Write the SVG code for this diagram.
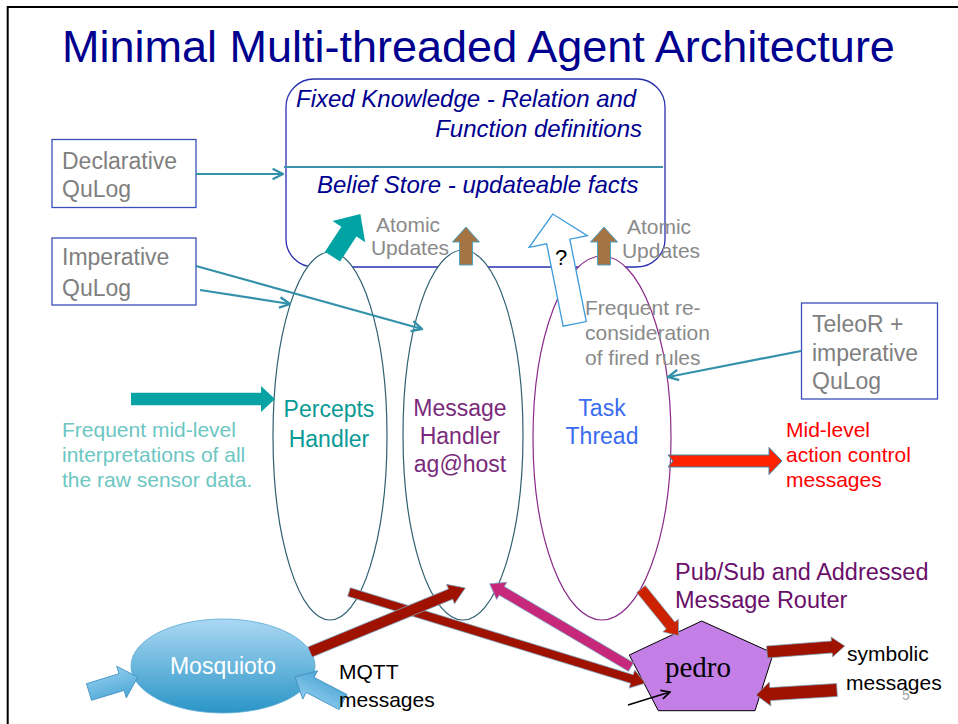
<svg xmlns="http://www.w3.org/2000/svg" width="958" height="724" viewBox="0 0 958 724">
  <style>
    text { font-family: "Liberation Sans", Arial, sans-serif; }
    text.serif { font-family: "Liberation Serif", "Times New Roman", serif; }
    .title { font-size: 45px; fill: #00008f; }
    .kb { font-size: 24px; font-style: italic; fill: #00008f; }
    .box { fill: #ffffff; stroke: #3a4fb8; stroke-width: 1.3; }
    .boxtxt { font-size: 23px; fill: #808080; }
    .gray { font-size: 21px; fill: #8a8a8a; }
    .thread { fill: #ffffff; stroke-width: 1.2; }
    .conn { fill: none; stroke: #3391aa; stroke-width: 2.2; marker-end: url(#open); }
    .darkred { fill: #a01200; stroke: #7aa9c6; stroke-width: 0.7; }
    .blue-in { fill: url(#blueFill); stroke: #3f8fbf; stroke-width: 0.8; }
    .black { font-size: 21px; fill: #000000; }
  </style>
  <defs>
    <marker id="open" viewBox="0 0 10 10" markerUnits="userSpaceOnUse" markerWidth="13" markerHeight="13" refX="9" refY="5" orient="auto">
      <path d="M1,1 L9,5 L1,9" fill="none" stroke="#3391aa" stroke-width="1.8"/>
    </marker>
    <marker id="openBlack" viewBox="0 0 10 10" markerUnits="userSpaceOnUse" markerWidth="11" markerHeight="11" refX="9" refY="5" orient="auto">
      <path d="M1,1 L9,5 L1,9" fill="none" stroke="#000" stroke-width="1.5"/>
    </marker>
    <linearGradient id="mosqFill" x1="0" y1="0" x2="0" y2="1">
      <stop offset="0" stop-color="#acd8f3"/>
      <stop offset="1" stop-color="#2a95c7"/>
    </linearGradient>
    <linearGradient id="blueFill" x1="0" y1="0" x2="0" y2="1">
      <stop offset="0" stop-color="#8fcdee"/>
      <stop offset="1" stop-color="#4ca6d6"/>
    </linearGradient>
  </defs>

  <!-- frame -->
  <path d="M7.7,724 V7 H958" fill="none" stroke="#000" stroke-width="2"/>

  <g id="title">
    <text class="title" x="62" y="62">Minimal Multi-threaded Agent Architecture</text>
  </g>

  <!-- knowledge base -->
  <g id="knowledge-base">
    <rect x="286" y="79" width="379" height="188" rx="28" ry="28" fill="#ffffff" stroke="#2a2fb0" stroke-width="1.3"/>
    <line x1="284" y1="167" x2="663" y2="167" stroke="#3a92ab" stroke-width="2.2"/>
    <text class="kb" x="296" y="107">Fixed Knowledge - Relation and</text>
    <text class="kb" x="642" y="137" text-anchor="end">Function definitions</text>
    <text class="kb" x="317" y="193">Belief Store - updateable facts</text>
  </g>

  <g id="declarative-qulog">
    <rect class="box" x="52" y="139.5" width="144" height="68"/>
    <text class="boxtxt" x="62" y="169">Declarative</text>
    <text class="boxtxt" x="62" y="197">QuLog</text>
  </g>

  <g id="imperative-qulog">
    <rect class="box" x="52" y="238" width="144" height="67"/>
    <text class="boxtxt" x="62" y="265">Imperative</text>
    <text class="boxtxt" x="62" y="296">QuLog</text>
  </g>

  <g id="teleor">
    <rect class="box" x="801.5" y="303" width="136" height="96"/>
    <text class="boxtxt" x="812" y="332">TeleoR +</text>
    <text class="boxtxt" x="812" y="361">imperative</text>
    <text class="boxtxt" x="812" y="389">QuLog</text>
  </g>

  <!-- threads -->
  <g id="percepts-handler">
    <ellipse class="thread" cx="330" cy="436" rx="57" ry="184" stroke="#2f6070"/>
    <text x="329" y="417" text-anchor="middle" font-size="23" fill="#0a9a96">Percepts</text>
    <text x="329" y="447" text-anchor="middle" font-size="23" fill="#0a9a96">Handler</text>
  </g>

  <g id="message-handler">
    <ellipse class="thread" cx="463" cy="435" rx="60" ry="185" stroke="#2f6070"/>
    <text x="460" y="416" text-anchor="middle" font-size="23" fill="#7a2a7a">Message</text>
    <text x="460" y="444" text-anchor="middle" font-size="23" fill="#7a2a7a">Handler</text>
    <text x="460" y="472" text-anchor="middle" font-size="23" fill="#7a2a7a">ag@host</text>
  </g>

  <g id="task-thread">
    <ellipse class="thread" cx="602" cy="438" rx="69" ry="182" stroke="#8a2a8a"/>
    <text x="602" y="416" text-anchor="middle" font-size="23" fill="#3a6cf0">Task</text>
    <text x="602" y="444" text-anchor="middle" font-size="23" fill="#3a6cf0">Thread</text>
  </g>

  <g id="mosquioto">
    <ellipse cx="223" cy="666" rx="92" ry="47" fill="url(#mosqFill)" stroke="#5aa9d3" stroke-width="0.8"/>
    <text x="223" y="674" text-anchor="middle" font-size="23" fill="#ffffff">Mosquioto</text>
  </g>

  <g id="pedro">
    <polygon points="701.7,621 773.3,653.3 755,710.7 658.3,710.7 629.3,655" fill="#c47fe6" stroke="#000" stroke-width="1"/>
    <text class="serif" x="698" y="677" text-anchor="middle" font-size="29" fill="#000">pedro</text>
  </g>

  <!-- connectors -->
  <g id="connectors">
    <path class="conn" d="M196,174 H283"/>
    <path class="conn" d="M196,266 L422,329"/>
    <path class="conn" d="M200,290 L290,304"/>
    <path class="conn" d="M801,351 L668,377"/>
    <path d="M628,705 L670,692" fill="none" stroke="#000" stroke-width="1.4" marker-end="url(#openBlack)"/>

    <!-- percepts into the belief store -->
    <path d="M0,-9 H30 V-19.5 L51,0 L30,19.5 V9 H0 Z" transform="translate(332.5,256.7) rotate(-56.9)" fill="#00a3a3"/>
    <!-- sensor input -->
    <path d="M0,-6.2 H130 V-13 L144,0 L130,13 V6.2 H0 Z" transform="translate(131,399)" fill="#0aa3a3"/>
    <!-- atomic updates -->
    <path d="M0,-6.5 H23 V-13.5 L38,0 L23,13.5 V6.5 H0 Z" transform="translate(466,265) rotate(-90)" fill="#a47443" stroke="#4ba3c8" stroke-width="1"/>
    <path d="M0,-6.5 H23 V-13.5 L38,0 L23,13.5 V6.5 H0 Z" transform="translate(604,265) rotate(-90)" fill="#a47443" stroke="#4ba3c8" stroke-width="1"/>
    <!-- task thread query -->
    <path d="M0,-11.8 H84 V-29.7 L112,0 L84,29.7 V11.8 H0 Z" transform="translate(574.7,323.9) rotate(-101.3)" fill="#ffffff" stroke="#3a9ad9" stroke-width="1.3"/>
    <!-- action control output -->
    <path d="M0,-6 H101 V-13.5 L114,0 L101,13.5 V6 H0 L5,0 Z" transform="translate(668,461)" fill="#ff2200" stroke="#3a8aa8" stroke-width="1"/>

    <!-- message routing -->
    <path class="darkred" d="M0,-4.5 H296 V-9.5 L310,0 L296,9.5 V4.5 H0 Z" transform="translate(349,592) rotate(17.1)"/>
    <path class="darkred" d="M0,-5.5 H152 V-10.5 L168,0 L152,10.5 V5.5 H0 Z" transform="translate(310,652) rotate(-22.4)"/>
    <path d="M0,-5 H150 V-10 L164,0 L150,10 V5 H0 Z" transform="translate(631,667) rotate(-149.5)" fill="#c8287a" stroke="#7aa9c6" stroke-width="0.7"/>
    <path d="M0,-5.5 H47 V-10 L60,0 L47,10 V5.5 H0 Z" transform="translate(641,589) rotate(51)" fill="#cc2200" stroke="#7aa9c6" stroke-width="0.7"/>
    <path class="darkred" d="M0,-6 H65 V-10 L78,0 L65,10 V6 H0 Z" transform="translate(767,652) rotate(-4.4)"/>
    <path class="darkred" d="M0,-6.5 H67 V-12 L81,0 L67,12 V6.5 H0 Z" transform="translate(837,690) rotate(176.5)"/>

    <!-- MQTT inputs -->
    <path class="blue-in" d="M0,-8.7 H34 V-16.5 L51,0 L34,16.5 V8.7 H0 Z" transform="translate(89,692) rotate(-17)"/>
    <path class="blue-in" d="M0,-8.5 H37 V-16 L54,0 L37,16 V8.5 H0 Z" transform="translate(343,702) rotate(-152.5)"/>
  </g>

  <!-- labels -->
  <g id="labels">
    <text x="561" y="265" text-anchor="middle" font-size="22" fill="#000">?</text>
    <text class="gray" x="408" y="232" text-anchor="middle">Atomic</text>
    <text class="gray" x="410" y="255" text-anchor="middle">Updates</text>
    <text class="gray" x="659" y="234" text-anchor="middle">Atomic</text>
    <text class="gray" x="661" y="258" text-anchor="middle">Updates</text>
    <text class="gray" x="585" y="315">Frequent re-</text>
    <text class="gray" x="585" y="340">consideration</text>
    <text class="gray" x="585" y="365">of fired rules</text>
    <g font-size="21" fill="#6cc6c2">
      <text x="62" y="437">Frequent mid-level</text>
      <text x="62" y="462">interpretations of all</text>
      <text x="62" y="487">the raw sensor data.</text>
    </g>
    <g font-size="21" fill="#ff0000">
      <text x="786" y="437">Mid-level</text>
      <text x="786" y="462">action control</text>
      <text x="786" y="487">messages</text>
    </g>
    <g font-size="23.5" fill="#6a0f6a">
      <text x="675" y="580">Pub/Sub and Addressed</text>
      <text x="675" y="608">Message Router</text>
    </g>
    <text class="black" x="339" y="679">MQTT</text>
    <text class="black" x="339" y="707">messages</text>
    <text class="black" x="847" y="661">symbolic</text>
    <text class="black" x="846" y="690">messages</text>
    <text x="906" y="700" text-anchor="middle" font-size="14" fill="#a0a0a0">5</text>
  </g>
</svg>
